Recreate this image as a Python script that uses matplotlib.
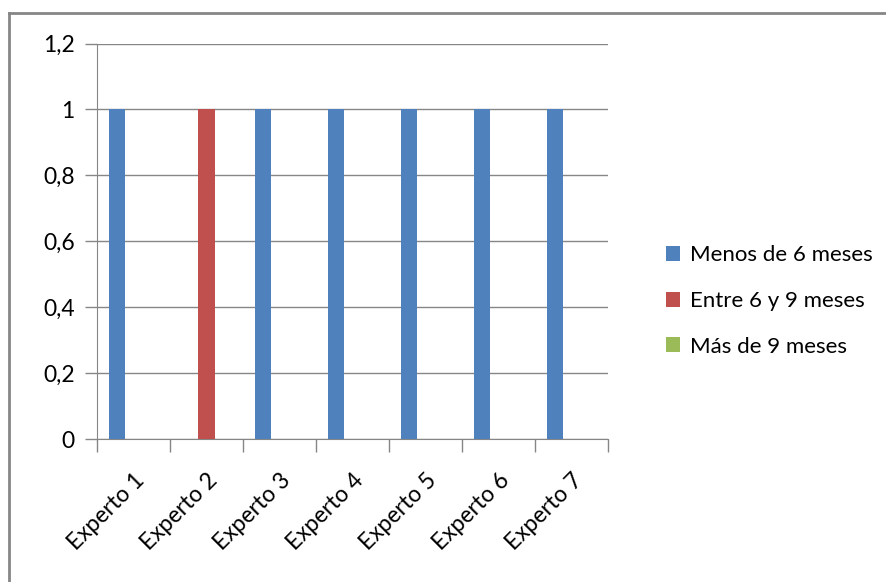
import numpy as np
import matplotlib.pyplot as plt
from matplotlib.lines import Line2D

plt.rcParams['font.family'] = ['Lato', 'DejaVu Sans']

# datos
expertos = ['Experto 1', 'Experto 2', 'Experto 3', 'Experto 4',
            'Experto 5', 'Experto 6', 'Experto 7']
menos_6 = [1, 0, 1, 1, 1, 1, 1]
entre_6_9 = [0, 1, 0, 0, 0, 0, 0]
mas_9 = [0, 0, 0, 0, 0, 0, 0]
series = ['Menos de 6 meses', 'Entre 6 y 9 meses', 'Más de 9 meses']
colores = ['#4F81BD', '#C0504D', '#9BBB59']

fig = plt.figure(figsize=(8.87, 5.82), dpi=100)
ax = fig.add_axes([97/887, 1-439.3/582, (608-97)/887, (439.3-43.5)/582])

x = np.arange(len(expertos))
w = 0.225
for i, (vals, lab, col) in enumerate(zip([menos_6, entre_6_9, mas_9], series, colores)):
    ax.bar(x + (i-1)*w, vals, width=w, color=col, label=lab, zorder=3)

ax.set_xlim(-0.5, len(expertos)-0.5)
ax.set_ylim(0, 1.2)
ax.set_yticks(np.arange(0, 1.21, 0.2))
ax.set_yticklabels(['0', '0,2', '0,4', '0,6', '0,8', '1', '1,2'])
ax.yaxis.grid(True, color='#868686', linewidth=1, zorder=0)

ax.set_xticks(np.arange(-0.5, len(expertos)), minor=False)
ax.set_xticklabels([])
ax.set_xticks(x, minor=True)
ax.set_xticklabels(expertos, minor=True, rotation=45, ha='right',
                   rotation_mode='anchor', fontsize=16.5)
ax.tick_params(axis='x', which='major', length=9, color='#868686', width=1)
ax.tick_params(axis='x', which='minor', length=0, pad=22)
ax.tick_params(axis='y', length=9, color='#868686', width=1, labelsize=16.5, pad=7)

for s in ['top', 'right']:
    ax.spines[s].set_visible(False)
for s in ['left', 'bottom']:
    ax.spines[s].set_color('#868686')

fig.legend(loc='center left', bbox_to_anchor=(646/887, 1-301/582), frameon=False,
           fontsize=16, handlelength=0.65, handleheight=0.65, handletextpad=0.45,
           labelspacing=1.15)

# borde del gráfico (solo arriba e izquierda)
fig.add_artist(Line2D([9/887, 1], [1-13/582, 1-13/582], transform=fig.transFigure,
                      color='#868686', linewidth=2))
fig.add_artist(Line2D([9/887, 9/887], [0, 1-13/582], transform=fig.transFigure,
                      color='#868686', linewidth=2))

fig.savefig('out.png', dpi=100)
